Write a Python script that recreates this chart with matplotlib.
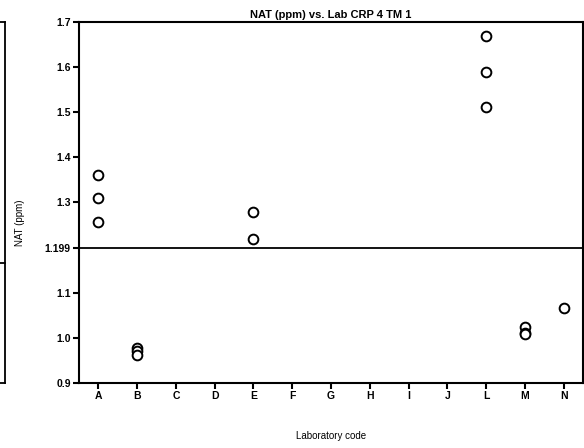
import matplotlib
matplotlib.use("Agg")
import matplotlib.pyplot as plt
from matplotlib.lines import Line2D

plt.rcParams["font.family"] = ["Liberation Sans", "DejaVu Sans"]

# laboratory codes shown on the x axis
labs = ["A", "B", "C", "D", "E", "F", "G", "H", "I", "J", "L", "M", "N"]

# NAT (ppm) results per laboratory
lab_points = ["A", "A", "A", "B", "B", "B", "E", "E", "L", "L", "L", "M", "M", "M", "N"]
nat_ppm = [1.362, 1.309, 1.256, 0.977, 0.970, 0.963, 1.280, 1.219,
           1.670, 1.590, 1.511, 1.024, 1.011, 1.008, 1.067]

assigned_value = 1.199
y_ticks = [0.9, 1.0, 1.1, 1.199, 1.3, 1.4, 1.5, 1.6, 1.7]
y_ticklabels = ["0.9", "1.0", "1.1", "1.199", "1.3", "1.4", "1.5", "1.6", "1.7"]

W, H = 584, 448
fig = plt.figure(figsize=(W / 100, H / 100), dpi=100)
ax = fig.add_axes([79 / W, 1 - 383 / H, 504 / W, 361 / H])

xpos = [labs.index(code) for code in lab_points]
ax.plot(xpos, nat_ppm, linestyle="none", marker="o", markersize=7,
        markerfacecolor="white", markeredgecolor="black", markeredgewidth=1.4)
ax.axhline(assigned_value, color="black", lw=1.3)

ax.set_xlim(-0.5, len(labs) - 0.5)
ax.set_ylim(0.9, 1.7)
ax.set_xticks(range(len(labs)))
ax.set_xticklabels(labs, fontsize=7.5, fontweight="bold")
ax.set_yticks(y_ticks)
ax.set_yticklabels(y_ticklabels, fontsize=7.5, fontweight="bold")
ax.tick_params(direction="out", length=4, width=1.5, pad=2)
for sp in ax.spines.values():
    sp.set_linewidth(1.5)

ax.set_title("NAT (ppm) vs. Lab CRP 4 TM 1", fontsize=8, fontweight="bold", pad=3)
ax.set_xlabel("Laboratory code", fontsize=7)
ax.set_ylabel("NAT (ppm)", fontsize=7)
ax.xaxis.set_label_coords(0.5, -(431 - 383) / 361)
ax.yaxis.set_label_coords(-(79 - 25) / 504, 1 - (222 - 21.7) / 361)

# edge of the neighbouring panel on the left
x0 = 5 / W
for y in (21.7, 262.7, 383):
    fig.add_artist(Line2D([0, x0], [1 - y / H, 1 - y / H], color="black", lw=1.3))
fig.add_artist(Line2D([x0, x0], [1 - 21.7 / H, 1 - 383 / H], color="black", lw=1.3))

fig.savefig("out.png", dpi=100)
